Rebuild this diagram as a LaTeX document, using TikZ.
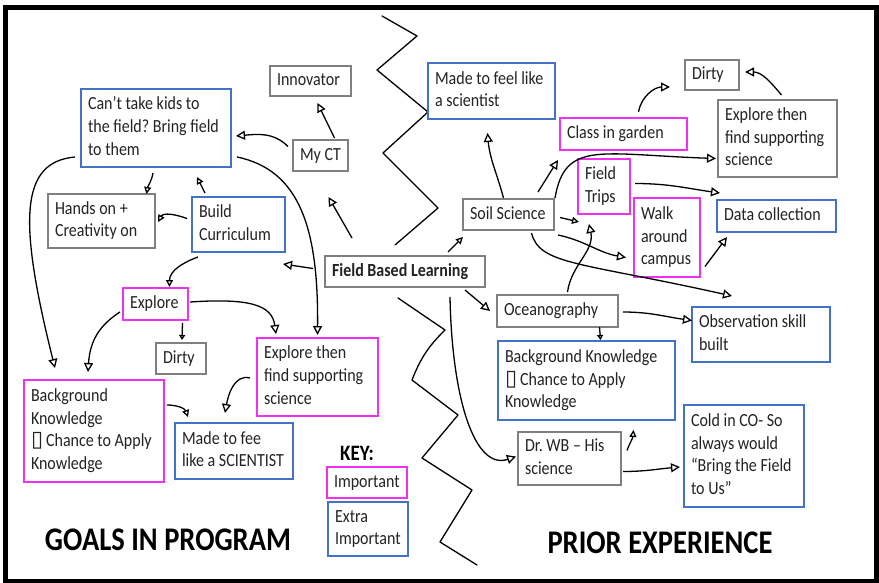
\documentclass[tikz,border=0pt]{standalone}
\usepackage{fontspec}
\setmainfont{Carlito}[FakeStretch=0.865]
\newfontfamily\dejavu{DejaVu Sans}
\usetikzlibrary{arrows.meta,calc}
\definecolor{blueb}{RGB}{68,114,196}
\definecolor{magb}{RGB}{240,50,240}
\definecolor{greyb}{RGB}{128,128,128}
\definecolor{txt}{RGB}{35,35,35}
\frenchspacing
\newcommand\bxglyph{{\dejavu\fontsize{22}{22.6}\selectfont ▯}\hspace{3pt}}
\newcommand\tx[2]{\makebox[\dimexpr #1pt-14pt\relax][l]{\begin{tabular}{@{}l@{}}#2\end{tabular}}}
\begin{document}
\begin{tikzpicture}[x=1pt,y=-1pt,
  base/.style={anchor=north west, inner xsep=7pt, inner ysep=1pt, outer sep=0pt, font=\fontsize{18.5}{22.6}\selectfont, text=txt},
  gbox/.style={base, draw=greyb, line width=1.2pt},
  bbox/.style={base, draw=blueb, line width=2.4pt},
  mbox/.style={base, draw=magb, line width=2.4pt},
  arr/.style={line width=1.3pt, -{Triangle[open,length=9pt,width=9pt]}},
  marr/.style={line width=1.3pt, -{Triangle[open,length=7pt,width=7pt]}},
  sarr/.style={line width=1.3pt, -{Triangle[open,length=5pt,width=6pt]}},
  zig/.style={line width=1.3pt, line join=round, line cap=round},
  title/.style={font=\bfseries\fontsize{33}{36}\selectfont, text=black, inner sep=0pt},
]
\fill[white] (0,0) rectangle (879,583);
\useasboundingbox (0,0) rectangle (879,583);
\draw[line width=5pt] (5.5,7.5) rectangle (876.5,581);

% zigzag dividers
\draw[zig] (382,16) -- (417,36) -- (377,70) -- (428,112) -- (383,153) -- (438,208) -- (395,245);
\draw[zig] (398,298) -- (445,330) to[bend right=12] (412,380) -- (458,415) -- (422,458) -- (472,490) -- (440,542) -- (477,565);

% left side nodes
\node[gbox, minimum height=30pt] (innov) at (270,66) {\tx{81}{Innovator}};
\node[bbox, minimum height=78pt] (cant) at (81,89) {\tx{150}{Can’t take kids to\\the field? Bring field\\to them}};
\node[gbox, minimum height=31pt] (myct) at (293,140) {\tx{55}{My CT}};
\node[gbox, minimum height=54pt] (hands) at (48,194) {\tx{107}{Hands on +\\Creativity on}};
\node[bbox, minimum height=55pt] (build) at (192,197) {\tx{93}{Build\\Curriculum}};
\node[gbox, minimum height=31pt, font=\bfseries\fontsize{18.5}{22.6}\selectfont] (fbl) at (325,256) {\tx{160}{Field Based Learning}};
\node[mbox, minimum height=32pt] (explore) at (123,288) {\tx{65}{Explore}};
\node[gbox, minimum height=31pt] (dirtyL) at (156,343) {\tx{50}{Dirty}};
\node[mbox, minimum height=78pt] (eftL) at (257,338) {\tx{121}{Explore then\\find supporting\\science}};
\node[mbox, minimum height=102pt] (bkL) at (24,380) {\tx{140}{Background\\Knowledge\\\bxglyph Chance to Apply\\Knowledge}};
\node[bbox, minimum height=56pt] (madeL) at (175,423) {\tx{118}{Made to fee\\like a SCIENTIST}};
\node[font=\bfseries\fontsize{22}{24}\selectfont, inner sep=0pt, text=black] (key) at (357,453) {KEY:};
\node[mbox, minimum height=31pt] (imp) at (327,467) {\tx{80}{Important}};
\node[bbox, minimum height=54pt] (extra) at (328,502) {\tx{80}{Extra\\Important}};
\node[title] (goals) at (168,540) {GOALS IN PROGRAM};

% right side nodes
\node[bbox, minimum height=56pt] (madeR) at (428,63) {\tx{127}{Made to feel like\\a scientist}};
\node[gbox, minimum height=30pt] (dirtyR) at (685,60) {\tx{54}{Dirty}};
\node[mbox, minimum height=32pt] (garden) at (560,118) {\tx{127}{Class in garden}};
\node[gbox, minimum height=77pt] (eftR) at (718,100) {\tx{119}{Explore then\\find supporting\\science}};
\node[mbox, minimum height=55pt] (trips) at (578,159) {\tx{52}{Field\\Trips}};
\node[gbox, minimum height=31pt] (soil) at (463,199) {\tx{91}{Soil Science}};
\node[mbox, minimum height=79pt] (walk) at (634,198) {\tx{66}{Walk\\around\\campus}};
\node[bbox, minimum height=32pt] (data) at (717,200) {\tx{119}{Data collection}};
\node[gbox, minimum height=32pt] (ocean) at (497,295) {\tx{121}{Oceanography}};
\node[bbox, minimum height=55pt] (obs) at (692,307) {\tx{138}{Observation skill\\built}};
\node[bbox, minimum height=79pt] (bkR) at (498,341) {\tx{177}{Background Knowledge\\\bxglyph Chance to Apply\\Knowledge}};
\node[gbox, minimum height=53pt] (drwb) at (518,432) {\tx{103}{Dr. WB – His\\science}};
\node[bbox, minimum height=102pt] (cold) at (684,405) {\tx{120}{Cold in CO- So\\always would\\“Bring the Field\\to Us”}};
\node[title] (prior) at (660,543) {PRIOR EXPERIENCE};

% left connectors
\draw[arr] ($(myct.north)+(14,-2)$) -- ($(innov.south)+(7,7)$);
\draw[arr] ($(myct.west)+(-5,-9)$) to[out=135,in=5] ($(cant.east)+(5,8)$);
\draw[arr] ($(fbl.north west)+(27,-18)$) -- ($(myct.south)+(8,26)$);
\draw[arr] ($(fbl.west)+(-12,-3)$) -- ($(build.south east)+(-2,12)$);
\draw[marr] ($(build.north west)+(13,-4)$) -- ($(cant.south)+(41,10)$);
\draw[marr] ($(cant.south)+(-3,6)$) to[out=-100,in=80] ($(hands.north)+(45,0)$);
\draw[marr] ($(build.west)+(-5,-6)$) to[out=160,in=60] ($(hands.east)+(3,1)$);
\draw[marr] ($(build.south west)+(6,5)$) to[out=200,in=90] ($(explore.north)+(14,-1)$);
\draw[arr] ($(cant.west)+(-6,29)$) .. controls +(-55,5) and +(-37,-148) .. ($(bkL.north west)+(31,-12)$);
\draw[arr] ($(cant.east)+(6,29)$) .. controls +(63,13) and +(1,-106) .. ($(eftL.north)+(0,-3)$);
\draw[arr] ($(explore.east)+(2,-2)$) .. controls +(60,-4) and +(-4,-29) .. ($(eftL.north west)+(19,-4)$);
\draw[sarr] ($(explore.south)+(27,3)$) -- ($(dirtyL.north)+(1,-3)$);
\draw[arr] ($(explore.west)+(-3,8)$) .. controls +(-20,13) and +(2,-32) .. ($(bkL.north)+(-6,-8)$);
\draw[marr] ($(bkL.east)+(3,-26)$) to[out=0,in=110] ($(madeL.north west)+(13,-6)$);
\draw[arr] ($(eftL.west)+(-7,1)$) to[out=165,in=80] ($(madeL.north)+(-9,-10)$);

% right connectors
\draw[marr] ($(fbl.north east)+(-37,-4)$) -- ($(soil.south west)+(0,7)$);
\draw[arr] ($(fbl.south east)+(-20,3)$) -- ($(ocean.west)+(-7,0)$);
\draw[arr] ($(fbl.south east)+(-35,10)$) .. controls +(2,103) and +(-41,14) .. ($(drwb.west)+(-2,-2)$);
\draw[arr] ($(soil.north)+(-5,-1)$) to[out=105,in=-85] ($(madeR.south)+(-4,14)$);
\draw[arr] ($(soil.north east)+(-16,-7)$) -- ($(garden.south west)+(-2,10)$);
\draw[arr] ($(soil.north east)+(1,-1)$) .. controls +(10,-58) and +(-116,-4) .. ($(eftR.west)+(-2,20)$);
\draw[arr] ($(garden.north)+(15,-6)$) to[out=80,in=180] ($(dirtyR.west)+(-15,12)$);
\draw[arr] ($(eftR.north)+(4,-5)$) to[out=130,in=0] ($(dirtyR.east)+(6,-3)$);
\draw[arr] ($(trips.east)+(5,-3)$) to[out=0,in=172] ($(data.north west)+(3,-7)$);
\draw[marr] ($(soil.east)+(6,3)$) -- ($(trips.south west)+(1,8)$);
\draw[arr] ($(soil.south east)+(4,5)$) to[out=-12,in=170] ($(walk.west)+(-8,20)$);
\draw[arr] ($(soil.south)+(23,3)$) .. controls +(8,32) and +(-152,-34) .. ($(obs.north)+(-29,-11)$);
\draw[arr] ($(walk.east)+(5,29)$) -- ($(data.south west)+(10,5)$);
\draw[arr] ($(ocean.north)+(10,-3)$) to[out=82,in=-78] ($(trips.south)+(-15,10)$);
\draw[arr] ($(ocean.east)+(5,1)$) to[out=0,in=172] ($(obs.west)+(0,-14)$);
\draw[sarr] ($(ocean.south)+(42,0)$) -- ($(bkR.north)+(14,-1)$);
\draw[marr] ($(drwb.east)+(6,-8)$) to[out=70,in=-95] ($(bkR.south)+(47,10)$);
\draw[arr] ($(drwb.east)+(2,13)$) to[out=0,in=185] ($(cold.west)+(-4,11)$);
\end{tikzpicture}
\end{document}
